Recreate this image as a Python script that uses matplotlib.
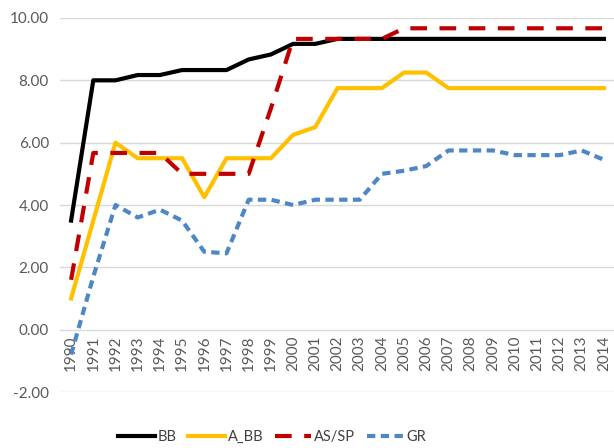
import matplotlib
matplotlib.use('Agg')
import matplotlib.pyplot as plt

years = [str(y) for y in range(1990, 2015)]

bb = [3.5, 8.0, 8.0, 8.17, 8.17, 8.33, 8.33, 8.33, 8.67, 8.83, 9.17, 9.17, 9.33,
      9.33, 9.33, 9.33, 9.33, 9.33, 9.33, 9.33, 9.33, 9.33, 9.33, 9.33, 9.33]
a_bb = [1.0, 3.5, 6.0, 5.5, 5.5, 5.5, 4.25, 5.5, 5.5, 5.5, 6.25, 6.5, 7.75,
        7.75, 7.75, 8.25, 8.25, 7.75, 7.75, 7.75, 7.75, 7.75, 7.75, 7.75, 7.75]
as_sp = [1.6, 5.67, 5.67, 5.67, 5.67, 5.0, 5.0, 5.0, 5.0, 7.1, 9.33, 9.33, 9.33,
         9.33, 9.33, 9.67, 9.67, 9.67, 9.67, 9.67, 9.67, 9.67, 9.67, 9.67, 9.67]
gr = [-0.8, 1.7, 4.0, 3.6, 3.85, 3.5, 2.5, 2.45, 4.17, 4.17, 4.0, 4.17, 4.17,
      4.17, 5.0, 5.1, 5.25, 5.75, 5.75, 5.75, 5.6, 5.6, 5.6, 5.75, 5.45]
yticks = [-2, 0, 2, 4, 6, 8, 10]

plt.rcParams['font.family'] = ['Lato', 'DejaVu Sans']

fig = plt.figure(figsize=(6.14, 4.48), dpi=100)
ax = fig.add_axes([60 / 614, 56 / 448, 555 / 614, 374 / 448])

# category axis crosses at zero, like the original spreadsheet chart
ax.spines['bottom'].set_position(('data', 0))
for s in ['top', 'right', 'left', 'bottom']:
    ax.spines[s].set_visible(False)

x = list(range(len(years)))
ax.plot(x, bb, color='black', lw=3, label='BB')
ax.plot(x, a_bb, color='#FFC000', lw=3, label='A_BB')
ax.plot(x, as_sp, color='#C00000', lw=3, dashes=(4, 3), label='AS/SP')
ax.plot(x, gr, color='#4F86C6', lw=3, dashes=(2, 1.3), label='GR')

ax.set_xlim(-0.5, len(years) - 0.5)
ax.set_ylim(-2, 10)
ax.set_yticks(yticks)
ax.set_yticklabels([f'{v:.2f}' for v in yticks])
ax.yaxis.grid(True, color='#D9D9D9', lw=1)
ax.set_axisbelow(True)

ax.set_xticks(x)
ax.set_xticklabels(years)
ax.tick_params(axis='both', length=0, colors='#595959', labelsize=11)
ax.tick_params(axis='x', pad=4, labelrotation=90)
ax.tick_params(axis='y', pad=8)

ax.legend(loc='lower center', bbox_to_anchor=(0.443, -0.02), bbox_transform=fig.transFigure,
          ncol=4, frameon=False, fontsize=10.5, handlelength=2.5, columnspacing=0.8,
          handletextpad=0.2, labelcolor='#404040')

fig.savefig('out.png', dpi=100)
